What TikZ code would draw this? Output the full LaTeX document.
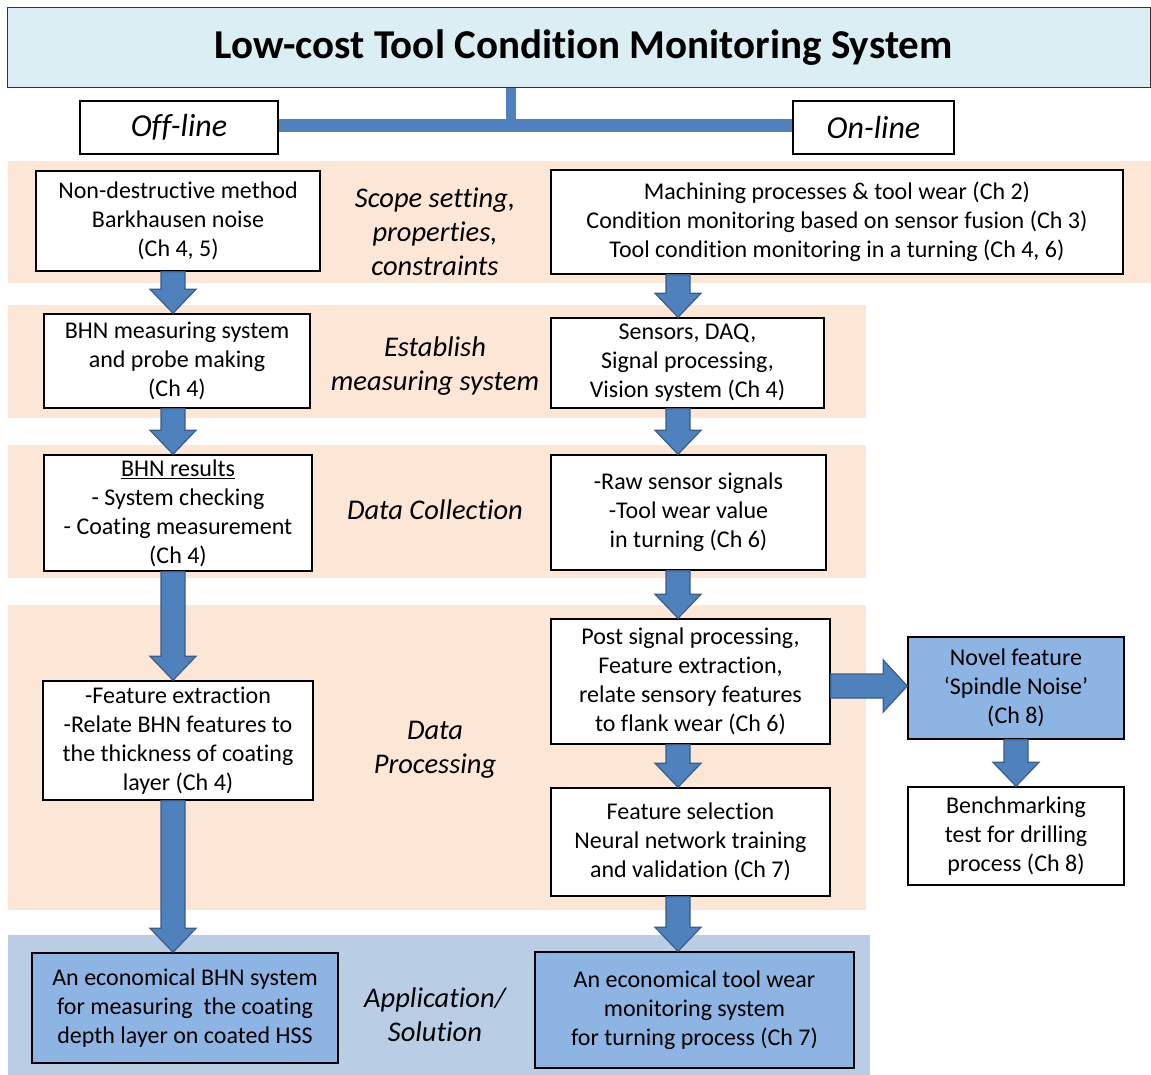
\documentclass[tikz,border=0pt]{standalone}
\usepackage{fontspec}
\setmainfont{Carlito}[Ligatures=NoCommon]
\usetikzlibrary{calc}
\definecolor{peach}{RGB}{252,230,214}
\definecolor{bandblue}{RGB}{185,205,229}
\definecolor{boxblue}{RGB}{142,180,227}
\definecolor{titleblue}{RGB}{218,238,243}
\definecolor{arrowblue}{RGB}{79,129,189}
\definecolor{arrowedge}{RGB}{56,93,138}

\tikzset{
  plainbox/.style={draw=black, line width=1.5pt, fill=white, align=center, inner sep=0pt,
    font=\fontsize{24}{29}\selectfont},
  solbox/.style={plainbox, fill=boxblue},
  phase/.style={align=center, inner sep=0pt, font=\itshape\fontsize{28.5}{34}\selectfont},
  modebox/.style={draw=black, line width=1.2pt, fill=white, inner sep=0pt,
    font=\itshape\fontsize{32}{38}\selectfont, minimum height=53pt},
  blockarrow/.style={fill=arrowblue, draw=arrowedge, line width=1.2pt, line join=miter},
  trunk/.style={draw=arrowblue}
}

% vertical block arrow from node #1 down to node #2 along column coordinate #3
\newcommand{\varrow}[3]{%
  \draw[blockarrow] let \p1=(#1.south -| #3), \p2=(#2.north -| #3) in
    (\x1-12pt,\y1) -- (\x1+12pt,\y1) -- (\x1+12pt,\y2+24pt) -- (\x1+23pt,\y2+24pt)
    -- (\x1,\y2) -- (\x1-23pt,\y2+24pt) -- (\x1-12pt,\y2+24pt) -- cycle;}
% horizontal block arrow from node #1 right to node #2 along row coordinate #3
\newcommand{\harrow}[3]{%
  \draw[blockarrow] let \p1=(#1.east |- #3), \p2=(#2.west |- #3) in
    (\x1,\y1+12pt) -- (\x1,\y1-12pt) -- (\x2-24pt,\y1-12pt) -- (\x2-24pt,\y1-26pt)
    -- (\x2,\y1) -- (\x2-24pt,\y1+26pt) -- (\x2-24pt,\y1+12pt) -- cycle;}

\begin{document}
\begin{tikzpicture}[x=1pt,y=-1pt]
\useasboundingbox (0,0) rectangle (1151,1075);

% phase bands
\fill[peach] (8,161) rectangle (1151,283);
\fill[peach] (8,305) rectangle (866,418);
\fill[peach] (8,445) rectangle (866,578);
\fill[peach] (8,605) rectangle (866,910);
\fill[bandblue] (8,935) rectangle (870,1075);

% title and the two branches
\node[draw=black!80, line width=1pt, fill=titleblue, minimum width=1143pt, minimum height=80pt,
  inner sep=0pt, font=\bfseries\fontsize{41}{45}\selectfont] (title) at (578.5,48)
  {\hspace*{10pt}Low-cost Tool Condition Monitoring System};
\node[modebox, minimum width=198pt] (off) at (179,127.5) {Off-line};
\node[modebox, minimum width=161pt] (on) at (873.5,127.5) {On-line};
\coordinate (hub) at (511,126);
\draw[trunk, line width=10pt] (title.south -| hub) -- ([yshift=-6pt]hub);
\draw[trunk, line width=13pt] (off.east |- hub) -- (on.west |- hub);

% off-line column
\node[plainbox, minimum width=284pt, minimum height=100pt] (b1) at (178,221)
  {Non-destructive method\\Barkhausen noise\\(Ch 4, 5)};
\node[plainbox, minimum width=266pt, minimum height=94pt] (b2) at (177,361)
  {BHN measuring system\\and probe making\\(Ch 4)};
\node[plainbox, minimum width=268pt, minimum height=116pt] (b3) at (178,513)
  {\underline{BHN results}\\- System checking\\- Coating measurement\\(Ch 4)};
\node[plainbox, minimum width=270pt, minimum height=119pt] (b4) at (178,740.5)
  {-Feature extraction\\-Relate BHN features to\\the thickness of coating\\layer (Ch 4)};
\node[solbox, minimum width=306pt, minimum height=110pt] (b5) at (185,1008)
  {An economical BHN system\\for measuring\ \ the coating\\depth layer on coated HSS};

% phase labels
\node[phase] (p1) at (435,232) {Scope setting,\\properties,\\constraints};
\node[phase] (p2) at (435,366) {Establish\\measuring system};
\node[phase] (p3) at (435,510) {Data Collection};
\node[phase] (p4) at (435,750) {Data\\Processing};
\node[phase] (p5) at (435,1015) {Application/\\Solution};

% on-line column
\node[plainbox, minimum width=572pt, minimum height=104pt] (r1) at (837,222)
  {Machining processes \& tool wear (Ch 2)\\Condition monitoring based on sensor fusion (Ch 3)\\Tool condition monitoring in a turning (Ch 4, 6)};
\node[plainbox, minimum width=273pt, minimum height=90pt] (r2) at (687.5,363)
  {Sensors, DAQ,\\Signal processing,\\Vision system (Ch 4)};
\node[plainbox, minimum width=275pt, minimum height=115pt] (r3) at (688.5,512.5)
  {-Raw sensor signals\\-Tool wear value\\in turning (Ch 6)};
\node[plainbox, minimum width=279pt, minimum height=125pt] (r4) at (690.5,681.5)
  {Post signal processing,\\Feature extraction,\\relate sensory features\\to flank wear (Ch 6)};
\node[plainbox, minimum width=279pt, minimum height=108pt] (r5) at (690.5,842)
  {Feature selection\\Neural network training\\and validation (Ch 7)};
\node[solbox, minimum width=319pt, minimum height=116pt] (r6) at (694.5,1010)
  {An economical tool wear\\monitoring system\\for turning process (Ch 7)};
\node[solbox, minimum width=216pt, minimum height=102pt] (nf) at (1016,688)
  {Novel feature\\‘Spindle Noise’\\(Ch 8)};
\node[plainbox, minimum width=216pt, minimum height=98pt] (bm) at (1016,836)
  {Benchmarking\\test for drilling\\process (Ch 8)};

% arrow columns
\coordinate (lcol) at (173,0);
\coordinate (rcol) at (678,0);
\coordinate (ncol) at (1016,0);
\coordinate (frow) at (0,686);

\varrow{b1}{b2}{lcol}
\varrow{b2}{b3}{lcol}
\varrow{b3}{b4}{lcol}
\varrow{b4}{b5}{lcol}
\varrow{r1}{r2}{rcol}
\varrow{r2}{r3}{rcol}
\varrow{r3}{r4}{rcol}
\varrow{r4}{r5}{rcol}
\varrow{r5}{r6}{rcol}
\varrow{nf}{bm}{ncol}
\harrow{r4}{nf}{frow}
\end{tikzpicture}
\end{document}
